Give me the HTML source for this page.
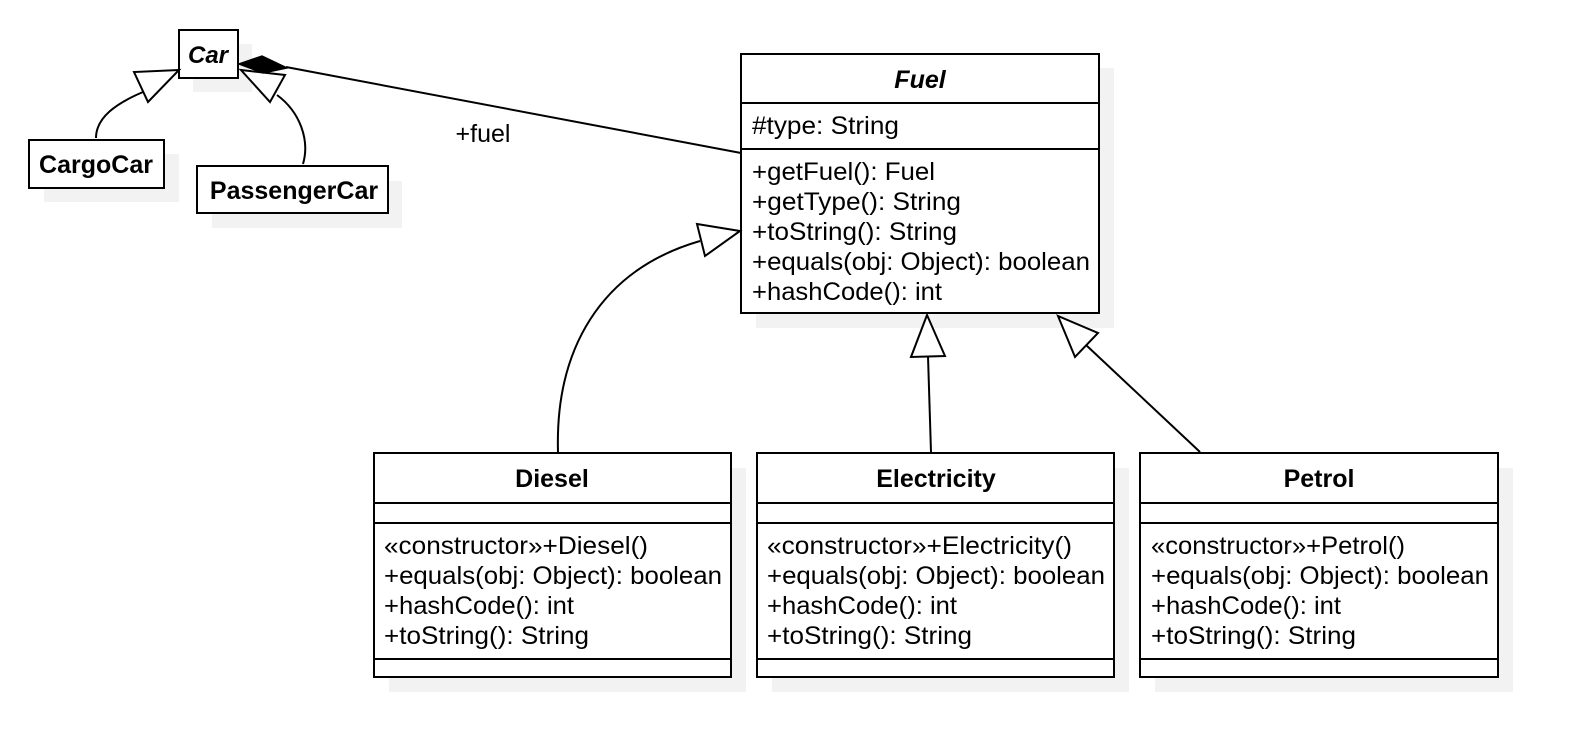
<!DOCTYPE html>
<html><head><meta charset="utf-8"><style>
html,body{margin:0;padding:0;background:#fff;}
svg text{font-family:"Liberation Sans",sans-serif;fill:#000;}
</style></head><body>
<svg width="1570" height="748" viewBox="0 0 1570 748" xmlns="http://www.w3.org/2000/svg">
<g fill="#f2f2f2">
<rect x="193" y="44" width="59" height="48"/>
<rect x="44" y="154" width="135" height="48"/>
<rect x="212" y="181" width="190" height="47"/>
<rect x="756" y="68" width="358" height="260"/>
<rect x="389" y="468" width="357" height="224"/>
<rect x="772" y="468" width="357" height="224"/>
<rect x="1155" y="468" width="358" height="224"/>
</g>
<g fill="#fff" stroke="#000" stroke-width="2">
<rect x="179" y="30" width="59" height="48"/>
<rect x="29" y="140" width="135" height="48"/>
<rect x="197" y="166" width="191" height="47"/>
<rect x="741" y="54" width="358" height="259"/>
<rect x="374" y="453" width="357" height="224"/>
<rect x="757" y="453" width="357" height="224"/>
<rect x="1140" y="453" width="358" height="224"/>
</g>
<g stroke="#000" stroke-width="2">
<line x1="741" y1="103" x2="1099" y2="103"/>
<line x1="741" y1="149" x2="1099" y2="149"/>
<line x1="374" y1="503" x2="731" y2="503"/><line x1="374" y1="523" x2="731" y2="523"/><line x1="374" y1="659" x2="731" y2="659"/>
<line x1="757" y1="503" x2="1114" y2="503"/><line x1="757" y1="523" x2="1114" y2="523"/><line x1="757" y1="659" x2="1114" y2="659"/>
<line x1="1140" y1="503" x2="1498" y2="503"/><line x1="1140" y1="523" x2="1498" y2="523"/><line x1="1140" y1="659" x2="1498" y2="659"/>
</g>
<g fill="none" stroke="#000" stroke-width="2">
<line x1="741" y1="153" x2="286" y2="67"/>
<path d="M96 138 C 96 118 115 103 148 90"/>
<path d="M303 164 C 310 140 300 112 277 95"/>
<path d="M558 452 C 555 350 600 270 700 241"/>
<line x1="928" y1="356" x2="931" y2="452"/>
<line x1="1086" y1="345" x2="1200" y2="452"/>
</g>
<g fill="#fff" stroke="#000" stroke-width="2" stroke-linejoin="miter">
<polygon points="179,70 134,72 148,102"/>
<polygon points="241,70 285,75 270,102"/>
<polygon points="740,231 697,224 705,256"/>
<polygon points="927,315 911,357 945,356"/>
<polygon points="1058,316 1075,357 1098,333"/>
</g>
<polygon points="239,64 262,56 287,68 263,73" fill="#000" stroke="#000" stroke-width="1.5"/>
<text x="208" y="63" font-size="24" font-weight="bold" font-style="italic" text-anchor="middle">Car</text>
<text x="96" y="173" font-size="25" font-weight="bold" text-anchor="middle">CargoCar</text>
<text x="294" y="199" font-size="25" font-weight="bold" text-anchor="middle">PassengerCar</text>
<text x="483" y="142" font-size="25" text-anchor="middle">+fuel</text>
<text x="920" y="88" font-size="25" font-weight="bold" font-style="italic" text-anchor="middle">Fuel</text>
<g font-size="25">
<text x="752" y="134" textLength="147" lengthAdjust="spacingAndGlyphs">#type: String</text>
<text x="752" y="180" textLength="183" lengthAdjust="spacingAndGlyphs">+getFuel(): Fuel</text>
<text x="752" y="210" textLength="209" lengthAdjust="spacingAndGlyphs">+getType(): String</text>
<text x="752" y="240" textLength="205" lengthAdjust="spacingAndGlyphs">+toString(): String</text>
<text x="752" y="270" textLength="338" lengthAdjust="spacingAndGlyphs">+equals(obj: Object): boolean</text>
<text x="752" y="300" textLength="190" lengthAdjust="spacingAndGlyphs">+hashCode(): int</text>
</g>
<g font-size="25" font-weight="bold" text-anchor="middle">
<text x="552" y="487">Diesel</text>
<text x="936" y="487">Electricity</text>
<text x="1319" y="487">Petrol</text>
</g>
<g font-size="25">
<text x="384" y="554" textLength="264" lengthAdjust="spacingAndGlyphs">«constructor»+Diesel()</text>
<text x="384" y="584" textLength="338" lengthAdjust="spacingAndGlyphs">+equals(obj: Object): boolean</text>
<text x="384" y="614" textLength="190" lengthAdjust="spacingAndGlyphs">+hashCode(): int</text>
<text x="384" y="644" textLength="205" lengthAdjust="spacingAndGlyphs">+toString(): String</text>
<text x="767" y="554" textLength="305" lengthAdjust="spacingAndGlyphs">«constructor»+Electricity()</text>
<text x="767" y="584" textLength="338" lengthAdjust="spacingAndGlyphs">+equals(obj: Object): boolean</text>
<text x="767" y="614" textLength="190" lengthAdjust="spacingAndGlyphs">+hashCode(): int</text>
<text x="767" y="644" textLength="205" lengthAdjust="spacingAndGlyphs">+toString(): String</text>
<text x="1151" y="554" textLength="254" lengthAdjust="spacingAndGlyphs">«constructor»+Petrol()</text>
<text x="1151" y="584" textLength="338" lengthAdjust="spacingAndGlyphs">+equals(obj: Object): boolean</text>
<text x="1151" y="614" textLength="190" lengthAdjust="spacingAndGlyphs">+hashCode(): int</text>
<text x="1151" y="644" textLength="205" lengthAdjust="spacingAndGlyphs">+toString(): String</text>
</g>
</svg>
</body></html>
